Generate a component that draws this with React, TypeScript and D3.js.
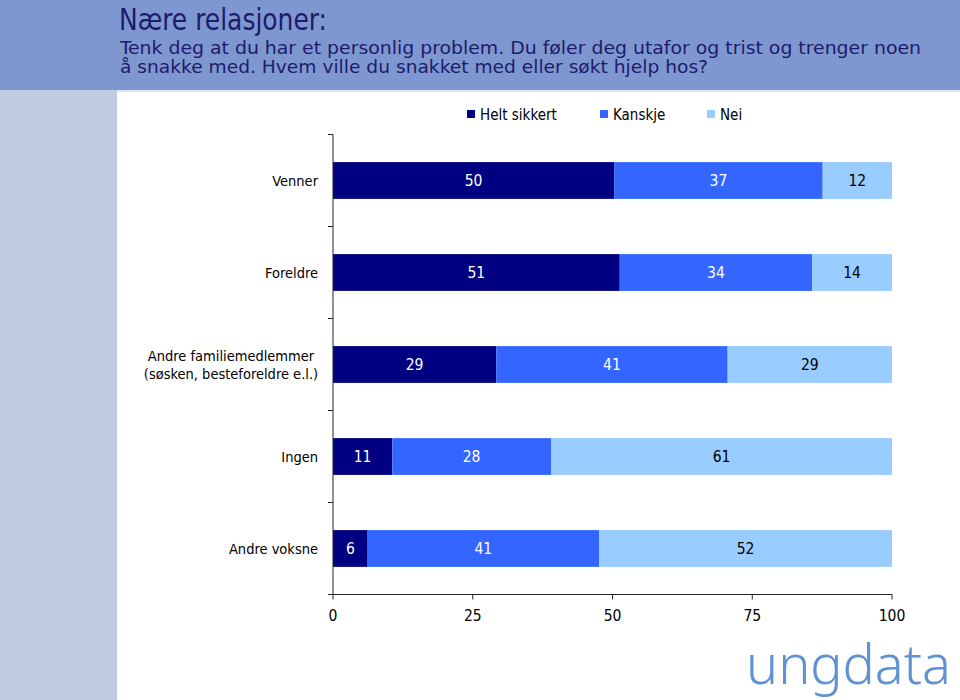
import * as d3 from "d3";

const categories = [
  "Venner",
  "Foreldre",
  "Andre familiemedlemmer|(søsken, besteforeldre e.l.)",
  "Ingen",
  "Andre voksne",
];
const seriesNames = ["Helt sikkert", "Kanskje", "Nei"];
const heltSikkert = [50.3, 51.3, 29.2, 10.6, 6.2];
const kanskje = [37.3, 34.4, 41.4, 28.4, 41.4];
const nei = [12.4, 14.3, 29.4, 61.0, 52.4];
const xTicks = [0, 25, 50, 75, 100];

const colors = ["#000080", "#3366ff", "#99ccff"];
const labelColors = ["#ffffff", "#ffffff", "#000000"];

const W = 960;
const H = 700;
const plot = { left: 333, right: 892, top: 134.5, bottom: 594.5 };
const narrow = "'DejaVu Sans Condensed', 'DejaVu Sans', sans-serif";

const App = () => {
  const rows = categories.map((c, i) => ({
    key: c,
    "Helt sikkert": heltSikkert[i],
    Kanskje: kanskje[i],
    Nei: nei[i],
  }));
  const stacked = d3.stack<any>().keys(seriesNames)(rows);

  const x = d3.scaleLinear().domain([0, 100]).range([plot.left, plot.right]);
  const y = d3
    .scaleBand()
    .domain(categories)
    .range([plot.top, plot.bottom])
    .paddingInner(0.6)
    .paddingOuter(0.3);
  const band = d3
    .scaleBand()
    .domain(categories)
    .range([plot.top, plot.bottom]);
  const boundaries = [...categories.map((c) => band(c)!), plot.bottom];

  return (
    <svg
      width={W}
      height={H}
      style={{ position: "absolute", left: 0, top: 0 }}
      fontFamily={narrow}
    >
      <rect x={0} y={0} width={W} height={H} fill="#ffffff" />
      {/* header */}
      <rect x={0} y={0} width={W} height={90} fill="#7f97d1" />
      <rect x={0} y={90} width={W} height={2} fill="#dfe6f3" />
      <rect x={0} y={90} width={117} height={H - 90} fill="#bfcbe0" />
      <text x={119} y={30} fontSize={31} fill="#1c1c6b" textLength={208} lengthAdjust="spacingAndGlyphs">
        Nære relasjoner:
      </text>
      <text x={120} y={54} fontSize={18} fill="#1c1c6b" textLength={801} lengthAdjust="spacingAndGlyphs">
        Tenk deg at du har et personlig problem. Du føler deg utafor og trist og trenger noen
      </text>
      <text x={120} y={73} fontSize={18} fill="#1c1c6b" textLength={588} lengthAdjust="spacingAndGlyphs">
        å snakke med. Hvem ville du snakket med eller søkt hjelp hos?
      </text>

      {/* legend */}
      {seriesNames.map((s, i) => {
        const lx = [467, 600, 707][i];
        return (
          <g key={s}>
            <rect x={lx} y={110} width={8} height={8} fill={colors[i]} />
            <text x={lx + 13} y={119.5} fontSize={15} fill="#000">
              {s}
            </text>
          </g>
        );
      })}

      {/* bars */}
      {stacked.map((layer, si) => (
        <g key={layer.key}>
          {layer.map((d, ci) => {
            const x0 = x(d[0]);
            const x1 = x(d[1]);
            const yy = y(categories[ci])!;
            return (
              <g key={ci}>
                <rect
                  x={x0}
                  y={yy}
                  width={x1 - x0}
                  height={y.bandwidth()}
                  fill={colors[si]}
                />
                <text
                  x={(x0 + x1) / 2}
                  y={yy + y.bandwidth() / 2 + 5.5}
                  textAnchor="middle"
                  fontSize={15.5}
                  fill={labelColors[si]}
                >
                  {Math.round(d[1] - d[0])}
                </text>
              </g>
            );
          })}
        </g>
      ))}

      {/* y axis */}
      <line x1={plot.left} x2={plot.left} y1={plot.top} y2={plot.bottom} stroke="#222" />
      {boundaries.map((b, i) => (
        <line key={i} x1={plot.left - 5} x2={plot.left} y1={b} y2={b} stroke="#222" />
      ))}
      {categories.map((c) => {
        const lines = c.split("|");
        const cy = band(c)! + band.bandwidth() / 2;
        return (
          <text key={c} fontSize={14.5} fill="#000">
            {lines.map((l, i) => (
              <tspan
                key={i}
                x={lines.length > 1 ? 231 : 318}
                textAnchor={lines.length > 1 ? "middle" : "end"}
                y={cy + 5 + (i - (lines.length - 1) / 2) * 18}
              >
                {l}
              </tspan>
            ))}
          </text>
        );
      })}

      {/* x axis */}
      <line x1={plot.left - 5} x2={plot.right} y1={plot.bottom} y2={plot.bottom} stroke="#222" />
      {xTicks.map((t) => (
        <g key={t}>
          <line x1={x(t)} x2={x(t)} y1={plot.bottom} y2={plot.bottom + 5} stroke="#222" />
          <text x={x(t)} y={621} textAnchor="middle" fontSize={15.5} fill="#000">
            {t}
          </text>
        </g>
      ))}

      {/* logo */}
      <text
        x={746}
        y={684}
        fontSize={56}
        fontWeight={300}
        fill="#5e92d2"
        fontFamily="'Noto Sans', 'Open Sans', sans-serif"
        textLength={205}
        lengthAdjust="spacingAndGlyphs"
      >
        ungdata
      </text>
    </svg>
  );
};

export default App;
